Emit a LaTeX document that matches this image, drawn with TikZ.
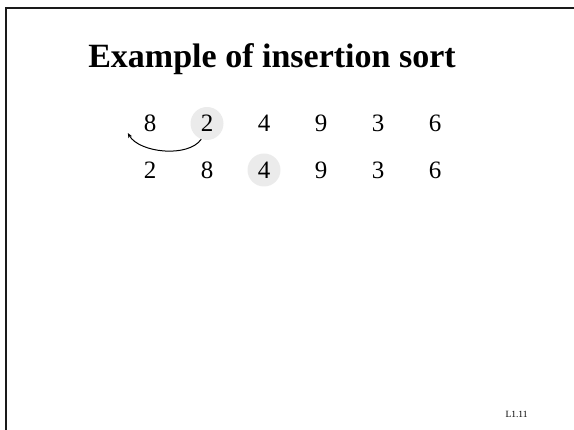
\documentclass[tikz,border=0pt]{standalone}
\usepackage{fontspec}
\setmainfont{Liberation Serif}
\usetikzlibrary{arrows.meta,calc}
\definecolor{Ink}{HTML}{000000}
\definecolor{Frame}{HTML}{1A1A1A}
\definecolor{HiGray}{HTML}{EBEBEB}
\tikzset{
 num/.style={circle,minimum size=33pt,inner sep=0pt,font=\fontsize{25}{30}\selectfont,text=Ink},
 hilite/.style={fill=HiGray},
 swap/.style={-{Stealth[length=5pt,width=4pt]},line width=1pt,draw=Ink}
}
\begin{document}
\begin{tikzpicture}[x=1pt,y=1pt]
\useasboundingbox (0,0) rectangle (574,-430);
\draw[Frame,line width=2pt] (574,-8.3)--(6,-8.3)--(6,-430);
\node[anchor=base,font=\fontsize{34}{40}\selectfont\bfseries] (title) at (272,-68) {Example of insertion sort};
\foreach \d/\s [count=\i] in {8/,2/hilite,4/,9/,3/,6/} {
 \node[num,\s] (a\i) at ({150+57*(\i-1)},-123.5) {\d};
}
\foreach \d/\s [count=\i] in {2/,8/,4/hilite,9/,3/,6/} {
 \node[num,\s] (b\i) at ({150+57*(\i-1)},-170) {\d};
}
\draw[swap] (a2.-110) to[out=-125,in=-60,looseness=.8] ($(a1.west)+(-5.5,-9.5)$);
\node[anchor=base west,font=\fontsize{9.5}{11}\selectfont] (slide) at (502,-418) {L1.11};
\end{tikzpicture}
\end{document}
